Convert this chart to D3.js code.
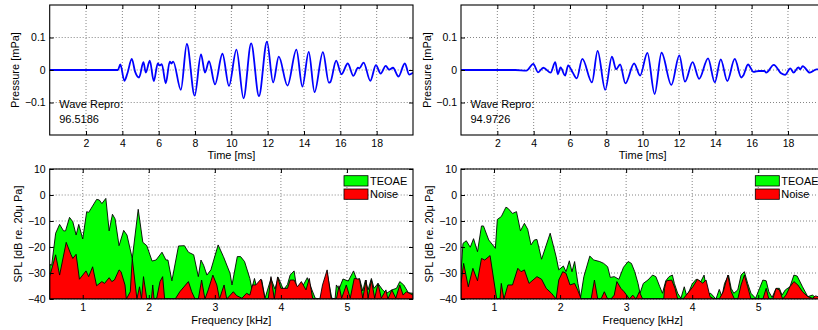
<!DOCTYPE html>
<html>
<head>
<meta charset="utf-8">
<script src="https://cdn.jsdelivr.net/npm/d3@7"></script>
<style>
	body { margin: 0; background: #fff; }
	svg { display: block; font-family: 'Liberation Sans', Arial, sans-serif; }
	.tick text { font-size: 10.5px; fill: #000; }
	.tick line { stroke: #000; }
</style>
</head>
<body>
<div id="chart"></div>
<script>
// time-domain waveforms, [ms, mPa]
const waveLeft = [[0,0],[3.75,0],[3.89,0.017],[4.11,-0.033],[4.28,-0.01],[4.52,0.034],[4.7,-0.005],[4.92,-0.023],[5.16,0.024],[5.29,-0.008],[5.51,0.029],[5.73,-0.034],[5.95,0.02],[6.05,0.014],[6.17,0.018],[6.39,-0.041],[6.61,0.026],[6.7,0.02],[6.8,0.026],[7.22,-0.061],[7.55,0.08],[7.98,-0.079],[8.33,0.048],[8.55,-0.008],[8.77,0.027],[9.1,-0.044],[9.51,0.05],[9.87,-0.049],[10.28,0.063],[10.67,-0.087],[11.09,0.082],[11.52,-0.08],[11.96,0.087],[12.3,-0.038],[12.61,0.041],[13.09,-0.048],[13.58,0.063],[13.91,-0.051],[14.26,0.056],[14.58,-0.068],[15.04,0.055],[15.37,-0.039],[15.45,-0.037],[15.77,0.029],[16.06,-0.013],[16.41,0.02],[16.72,-0.018],[16.97,0.007],[17.05,0.005],[17.28,0.023],[17.65,-0.033],[17.96,0.015],[18.22,-0.011],[18.5,0.013],[18.68,0.001],[18.9,0.007],[19.2,-0.02],[19.55,0.02],[19.79,-0.014],[20,-0.008]];
const waveRight = [[0,0],[3.0,0],[3.6,-0.002],[3.98,0.019],[4.24,-0.007],[4.53,0.007],[4.93,-0.008],[5.19,0.024],[5.33,-0.013],[5.48,0.008],[5.73,-0.017],[5.9,0.014],[6.15,-0.008],[6.37,-0.026],[6.68,0.034],[7.21,-0.038],[7.52,0.059],[7.94,-0.061],[8.31,0.041],[8.54,0.002],[8.76,0.017],[9.05,-0.041],[9.53,0.02],[9.86,-0.017],[10.26,0.053],[10.66,-0.074],[11.04,0.053],[11.58,-0.046],[12.02,0.045],[12.33,-0.036],[12.75,0.024],[13.11,-0.027],[13.6,0.036],[13.97,-0.038],[14.3,0.033],[14.66,-0.034],[15.07,0.034],[15.43,-0.023],[15.55,-0.016],[15.8,0.017],[16.1,-0.006],[16.4,-0.003],[16.7,-0.003],[16.8,-0.008],[17.22,0.016],[17.62,-0.01],[17.84,-0.015],[18.13,0.005],[18.31,-0.008],[18.57,0.008],[18.68,0.002],[18.81,0.012],[19.2,-0.008],[19.57,0.002],[20,0.001]];
const reproValues = ['96.5186', '94.9726'];

// spectra, [kHz, dB]
const teoaeLeft = [[0.5,-26.7],[0.53,-27],[0.59,-14.7],[0.65,-11.3],[0.71,-13.8],[0.74,-13.8],[0.8,-8.6],[0.85,-10.3],[0.9,-15.4],[0.94,-11.3],[1.0,-16.9],[1.06,-6.4],[1.09,-6.7],[1.21,-1.7],[1.25,-1.9],[1.29,-3.3],[1.35,-1.3],[1.4,-13.8],[1.45,-7.4],[1.49,-9.2],[1.55,-19.5],[1.62,-13.6],[1.67,-15.4],[1.75,-24.4],[1.84,-5.5],[1.91,-18.2],[1.97,-19.5],[2.05,-25.4],[2.11,-25],[2.2,-22],[2.26,-25],[2.29,-25],[2.35,-33],[2.45,-19.6],[2.54,-19.5],[2.6,-22],[2.68,-23],[2.75,-31.4],[2.79,-25],[2.83,-27],[2.88,-30.8],[2.94,-28.8],[3.05,-19.2],[3.13,-23.7],[3.23,-30.1],[3.26,-34.6],[3.34,-23.7],[3.39,-23.7],[3.45,-25.6],[3.53,-32.1],[3.56,-35.9],[3.6,-32.1],[3.64,-36.2],[3.71,-32.7],[3.76,-39.7],[3.85,-32.1],[3.91,-36.2],[3.96,-31.7],[4.04,-36.5],[4.1,-34.4],[4.14,-30.8],[4.2,-29.2],[4.24,-35.9],[4.34,-34.6],[4.4,-31.8],[4.47,-36.5],[4.52,-39.7],[4.59,-40],[4.67,-34.6],[4.7,-30],[4.77,-39.7],[4.82,-40],[4.84,-34.6],[4.88,-36.2],[4.94,-32.3],[5.02,-33.1],[5.1,-29.2],[5.15,-32.7],[5.19,-32.1],[5.24,-36.9],[5.28,-32.7],[5.32,-36.5],[5.37,-32.1],[5.41,-35.9],[5.47,-34],[5.54,-36.5],[5.6,-37.8],[5.68,-36.5],[5.75,-35.9],[5.8,-33.3],[5.86,-34.6],[5.93,-37.6],[6,-37.8]];
const noiseLeft = [[0.5,-31.4],[0.59,-23],[0.65,-30.8],[0.75,-18.2],[0.82,-22.8],[0.85,-24.4],[0.9,-22.8],[0.95,-32.4],[1.05,-29.2],[1.09,-31.4],[1.15,-27.6],[1.21,-34.9],[1.29,-33.3],[1.33,-34],[1.4,-31.8],[1.44,-33.3],[1.48,-32.7],[1.55,-28.8],[1.58,-29.5],[1.64,-34.6],[1.66,-40],[1.72,-37.2],[1.75,-24.4],[1.82,-40],[1.86,-35.3],[1.89,-40],[1.92,-31.4],[1.97,-40],[2.04,-40],[2.06,-34.6],[2.08,-40],[2.12,-39.7],[2.17,-33.3],[2.21,-31.4],[2.24,-40],[2.4,-40],[2.47,-37.2],[2.6,-33.3],[2.65,-37.2],[2.7,-40],[2.75,-40],[2.8,-32.7],[2.85,-40],[2.9,-36.5],[2.97,-30.8],[3.03,-34.6],[3.07,-40],[3.14,-34.6],[3.18,-40],[3.28,-37.2],[3.33,-38.7],[3.41,-39.7],[3.48,-37.8],[3.53,-38.5],[3.57,-34.6],[3.62,-34.6],[3.7,-32.3],[3.76,-40],[3.81,-39.7],[3.85,-31.4],[3.9,-40],[3.95,-31.5],[4.0,-35.9],[4.1,-35.9],[4.14,-32.7],[4.2,-32.7],[4.25,-35.3],[4.31,-33.3],[4.38,-36.5],[4.43,-32.1],[4.48,-39.7],[4.52,-40],[4.59,-40],[4.63,-34.6],[4.7,-28.8],[4.76,-39.7],[4.84,-40],[4.88,-34.9],[4.92,-39.7],[4.99,-34.6],[5.05,-39.7],[5.11,-32.1],[5.19,-32.4],[5.24,-39.7],[5.29,-32.7],[5.32,-39.7],[5.37,-32.7],[5.42,-39.7],[5.47,-34],[5.52,-39.7],[5.59,-36.5],[5.62,-40],[5.68,-36.5],[5.74,-39.7],[5.8,-34.6],[5.85,-38.5],[5.9,-37.2],[6,-38.5]];
const teoaeRight = [[0.5,-30],[0.53,-18.6],[0.58,-17.6],[0.64,-20.1],[0.69,-16.8],[0.75,-21.8],[0.81,-11.9],[0.84,-11.9],[0.92,-17.3],[0.98,-19.2],[1.02,-20.5],[1.05,-9.4],[1.11,-8.3],[1.18,-4.7],[1.21,-5.1],[1.28,-7.1],[1.34,-6.4],[1.4,-13.8],[1.46,-10.9],[1.51,-13.2],[1.56,-19.2],[1.61,-17.3],[1.65,-17.1],[1.72,-24.7],[1.85,-14.7],[1.94,-23.7],[1.98,-28.8],[2.05,-27.3],[2.09,-29.5],[2.14,-25.3],[2.18,-29.5],[2.22,-25.6],[2.27,-34],[2.31,-39.4],[2.36,-31.4],[2.45,-23.5],[2.51,-25],[2.6,-25.6],[2.66,-26.3],[2.72,-27.6],[2.76,-31.7],[2.82,-31.4],[2.89,-32.4],[2.96,-27.8],[3.03,-25.6],[3.08,-26.3],[3.13,-29.5],[3.18,-34],[3.21,-37.8],[3.26,-34],[3.33,-32.7],[3.4,-30.8],[3.45,-31.4],[3.51,-35.3],[3.55,-37.8],[3.6,-33],[3.65,-31.4],[3.7,-30.8],[3.73,-34],[3.78,-37.8],[3.83,-39.7],[3.88,-35.3],[3.92,-39.1],[4.0,-34.2],[4.06,-32.4],[4.13,-33.3],[4.18,-30.8],[4.23,-38.2],[4.28,-37.8],[4.36,-40],[4.41,-36.3],[4.45,-39.1],[4.49,-34],[4.55,-30.8],[4.59,-35.9],[4.63,-37.8],[4.69,-36.5],[4.74,-30.8],[4.79,-29.5],[4.84,-34],[4.89,-37.8],[4.96,-39.7],[5.02,-35.9],[5.07,-32.7],[5.12,-33],[5.16,-37.2],[5.21,-39.4],[5.27,-35.9],[5.32,-35.9],[5.36,-38.5],[5.41,-36.5],[5.48,-35.3],[5.54,-30.8],[5.59,-31.2],[5.67,-35.3],[5.75,-39.1],[5.82,-38.5],[5.87,-39.4],[6,-40]];
const noiseRight = [[0.5,-34],[0.54,-26.3],[0.61,-35.3],[0.68,-28.2],[0.75,-33],[0.81,-24.4],[0.86,-25],[0.94,-23.3],[1.04,-40],[1.09,-40],[1.11,-34],[1.15,-40],[1.21,-34.6],[1.28,-34.6],[1.36,-28.2],[1.41,-29.5],[1.46,-28.8],[1.53,-34],[1.59,-32.7],[1.65,-31.4],[1.72,-32.4],[1.79,-35.9],[1.87,-37.8],[1.94,-40],[1.98,-32.7],[2.04,-29.5],[2.09,-30.1],[2.15,-34.6],[2.22,-34],[2.27,-36.8],[2.32,-40],[2.47,-40],[2.52,-32.7],[2.57,-40],[2.62,-40],[2.67,-37.2],[2.72,-40],[2.77,-40],[2.82,-38.5],[2.86,-33.3],[2.92,-35.9],[2.97,-37.2],[3.05,-40],[3.1,-38.5],[3.15,-40],[3.2,-37.2],[3.25,-40],[3.57,-40],[3.58,-35.9],[3.61,-33],[3.69,-32.7],[3.74,-35.9],[3.78,-40],[3.86,-40],[3.91,-38.5],[4.01,-35.3],[4.08,-32.4],[4.16,-33.9],[4.21,-32.7],[4.27,-39.1],[4.33,-40],[4.41,-40],[4.47,-37.2],[4.54,-30.8],[4.59,-37.2],[4.64,-40],[4.69,-40],[4.74,-34.6],[4.79,-30.8],[4.84,-35.3],[4.89,-40],[5.07,-40],[5.12,-35.9],[5.16,-40],[5.22,-40],[5.27,-35.9],[5.32,-36.5],[5.37,-40],[5.42,-38.5],[5.48,-35.3],[5.54,-33.3],[5.6,-34.6],[5.67,-37.2],[5.75,-39.1],[5.82,-39.7],[5.87,-38.8],[6,-40]];

const timeTicks = [2, 4, 6, 8, 10, 12, 14, 16, 18];
const pressureTicks = [-0.1, 0, 0.1];
const freqTicks = [1, 2, 3, 4, 5];
const splTicks = [-40, -30, -20, -10, 0, 10];
const legendLabels = ['TEOAE', 'Noise'];
const legendColors = ['#00ff00', '#ff0000'];

const width = 818;
const height = 330;
const plotW = 363.3;
const panelX = [49.7, 461];
const waveBox = { y0: 5, y1: 135 };
const specBox = { y0: 169, y1: 299 };

const svg = d3.select('#chart').append('svg')
	.attr('width', width)
	.attr('height', height);

const fmtP = (d) => d === 0 ? '0' : d3.format('.1f')(d);

function grid(g, x, y, xTicks, yTicks) {
	const [x0, x1] = x.range();
	const [y1, y0] = y.range();
	g.append('g').selectAll('line').data(xTicks).enter().append('line')
		.attr('x1', (d) => x(d)).attr('x2', (d) => x(d))
		.attr('y1', y0).attr('y2', y1)
		.attr('stroke', '#666').attr('stroke-width', 0.8).attr('stroke-dasharray', '1,2');
	g.append('g').selectAll('line').data(yTicks).enter().append('line')
		.attr('x1', x0).attr('x2', x1)
		.attr('y1', (d) => y(d)).attr('y2', (d) => y(d))
		.attr('stroke', '#666').attr('stroke-width', 0.8).attr('stroke-dasharray', '1,2');
}

function axes(g, x, y, xTicks, yTicks, yFmt, pad) {
	const [x0, x1] = x.range();
	const [y1, y0] = y.range();
	const ax = [
		g.append('g').attr('transform', `translate(0,${y1})`)
			.call(d3.axisBottom(x).tickValues(xTicks).tickFormat(d3.format('d')).tickSizeInner(-4).tickSizeOuter(0).tickPadding(pad)),
		g.append('g').attr('transform', `translate(0,${y0})`)
			.call(d3.axisTop(x).tickValues(xTicks).tickFormat('').tickSizeInner(-4).tickSizeOuter(0)),
		g.append('g').attr('transform', `translate(${x0},0)`)
			.call(d3.axisLeft(y).tickValues(yTicks).tickFormat(yFmt).tickSizeInner(-4).tickSizeOuter(0).tickPadding(4)),
		g.append('g').attr('transform', `translate(${x1},0)`)
			.call(d3.axisRight(y).tickValues(yTicks).tickFormat('').tickSizeInner(-4).tickSizeOuter(0)),
	];
	ax.forEach((a) => a.attr('font-family', null).attr('font-size', null).select('.domain').remove());
	g.append('rect')
		.attr('x', x0).attr('y', y0)
		.attr('width', x1 - x0).attr('height', y1 - y0)
		.attr('fill', 'none').attr('stroke', '#000').attr('stroke-width', 1.1);
}

function label(g, text, x, y, rot) {
	g.append('text')
		.attr('transform', `translate(${x},${y})` + (rot ? ' rotate(-90)' : ''))
		.attr('text-anchor', 'middle')
		.style('font-size', '11px')
		.text(text);
}

function wavePanel(i, data, repro) {
	const x0 = panelX[i];
	const g = svg.append('g');
	const x = d3.scaleLinear().domain([0, 20]).range([x0, x0 + plotW]);
	const y = d3.scaleLinear().domain([-0.2, 0.2]).range([waveBox.y1, waveBox.y0]);
	grid(g, x, y, timeTicks, pressureTicks);

	g.append('clipPath').attr('id', `cw${i}`)
		.append('rect').attr('x', x0).attr('y', waveBox.y0).attr('width', plotW).attr('height', waveBox.y1 - waveBox.y0);

	const line = d3.line()
		.x((d) => x(d[0]))
		.y((d) => y(d[1]))
		.curve(d3.curveMonotoneX);

	g.append('path')
		.datum(data)
		.attr('clip-path', `url(#cw${i})`)
		.attr('fill', 'none')
		.attr('stroke', '#0000ff')
		.attr('stroke-width', 1.8)
		.attr('stroke-linejoin', 'round')
		.attr('d', line);

	axes(g, x, y, timeTicks, pressureTicks, fmtP, 5);

	g.append('text').attr('x', x0 + 9.5).attr('y', 107.5).style('font-size', '11px').text('Wave Repro:');
	g.append('text').attr('x', x0 + 9.5).attr('y', 122.7).style('font-size', '11px').text(repro);

	label(g, 'Time [ms]', x0 + plotW / 2, 159, false);
	label(g, 'Pressure [mPa]', x0 - 30.5, (waveBox.y0 + waveBox.y1) / 2, true);
}

function spectrumPanel(i, teoae, noise) {
	const x0 = panelX[i];
	const g = svg.append('g');
	const x = d3.scaleLinear().domain([0.5, 6]).range([x0, x0 + plotW]);
	const y = d3.scaleLinear().domain([-40, 10]).range([specBox.y1, specBox.y0]);
	grid(g, x, y, freqTicks, splTicks);

	g.append('clipPath').attr('id', `cs${i}`)
		.append('rect').attr('x', x0).attr('y', specBox.y0).attr('width', plotW).attr('height', specBox.y1 - specBox.y0);

	const area = d3.area()
		.x((d) => x(d[0]))
		.y0(y(-40))
		.y1((d) => y(d[1]));

	[teoae, noise].forEach((series, k) => {
		g.append('path')
			.datum(series)
			.attr('clip-path', `url(#cs${i})`)
			.attr('fill', legendColors[k])
			.attr('stroke', '#000')
			.attr('stroke-width', 0.9)
			.attr('stroke-linejoin', 'round')
			.attr('d', area);
	});

	axes(g, x, y, freqTicks, splTicks, d3.format('d'), 5);

	// legend
	const lx = x0 + plotW - 69;
	legendLabels.forEach((name, k) => {
		const ly = 175.7 + k * 13.3;
		g.append('rect')
			.attr('x', lx).attr('y', ly)
			.attr('width', 24).attr('height', 10.3)
			.attr('fill', legendColors[k])
			.attr('stroke', '#000').attr('stroke-width', 0.8);
		g.append('text')
			.attr('x', lx + 26).attr('y', ly + 9.3)
			.style('font-size', '11px')
			.text(name);
	});

	label(g, 'Frequency [kHz]', x0 + plotW / 2, 323.5, false);
	label(g, 'SPL [dB re. 20μ Pa]', x0 - 28, (specBox.y0 + specBox.y1) / 2, true);
}

wavePanel(0, waveLeft, reproValues[0]);
wavePanel(1, waveRight, reproValues[1]);
spectrumPanel(0, teoaeLeft, noiseLeft);
spectrumPanel(1, teoaeRight, noiseRight);
</script>
</body>
</html>
